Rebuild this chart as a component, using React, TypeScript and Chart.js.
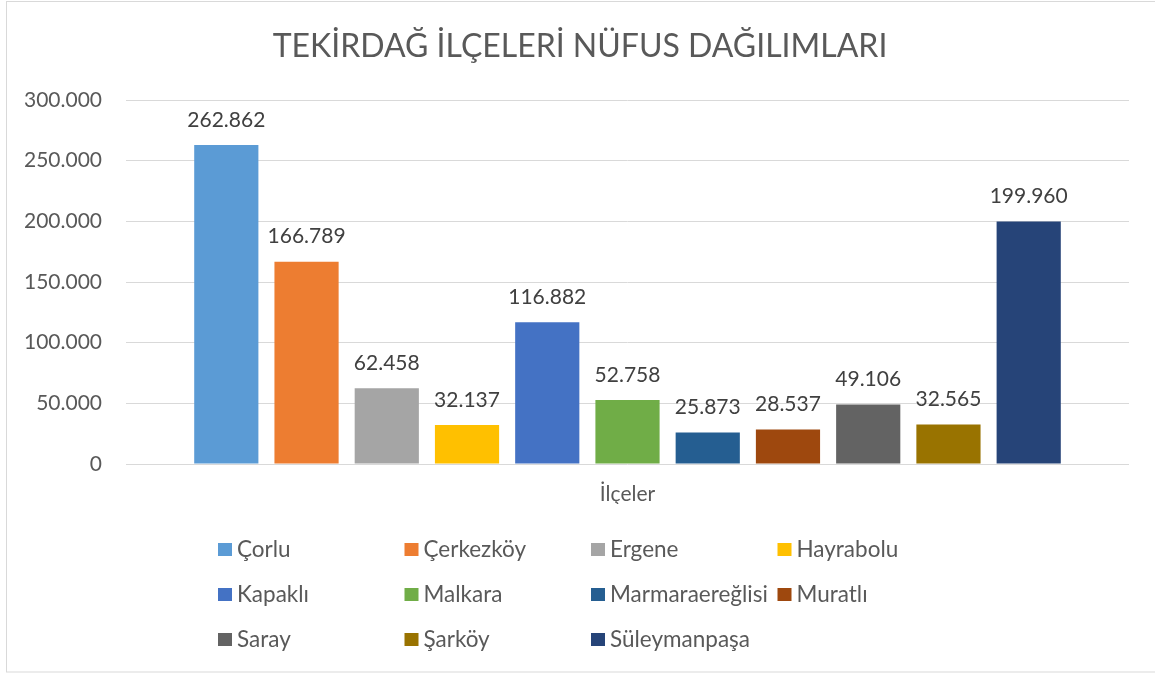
import React, { useEffect, useRef } from "react";
import { Chart, registerables } from "chart.js";

Chart.register(...registerables);

const TITLE = "TEKİRDAĞ İLÇELERİ NÜFUS DAĞILIMLARI";
const CATEGORIES = ["İlçeler"];
const DISTRICTS = [
  "Çorlu",
  "Çerkezköy",
  "Ergene",
  "Hayrabolu",
  "Kapaklı",
  "Malkara",
  "Marmaraereğlisi",
  "Muratlı",
  "Saray",
  "Şarköy",
  "Süleymanpaşa",
];
const POPULATION = [262862, 166789, 62458, 32137, 116882, 52758, 25873, 28537, 49106, 32565, 199960];
const COLORS = [
  "#5B9BD5",
  "#ED7D31",
  "#A5A5A5",
  "#FFC000",
  "#4472C4",
  "#70AD47",
  "#255E91",
  "#9E480E",
  "#636363",
  "#997300",
  "#264478",
];
const Y_MAX = 300000;
const Y_STEP = 50000;

const FONT = "Lato, 'Open Sans', sans-serif";

function fmt(v: number): string {
  return String(Math.round(v)).replace(/\B(?=(\d{3})+(?!\d))/g, ".");
}

const frameAndLabels = {
  id: "frameAndLabels",
  afterDatasetsDraw(chart: any) {
    const ctx = chart.ctx;
    ctx.save();
    ctx.font = `21px ${FONT}`;
    ctx.fillStyle = "#404040";
    ctx.textAlign = "center";
    ctx.textBaseline = "middle";
    chart.data.datasets.forEach((ds: any, i: number) => {
      const meta = chart.getDatasetMeta(i);
      meta.data.forEach((bar: any, j: number) => {
        ctx.fillText(fmt(ds.data[j]), bar.x, bar.y - 25);
      });
    });
    ctx.restore();
  },
  afterDraw(chart: any) {
    const ctx = chart.ctx;
    ctx.save();
    // title
    ctx.font = `32px ${FONT}`;
    ctx.fillStyle = "#595959";
    ctx.textAlign = "center";
    ctx.textBaseline = "middle";
    ctx.fillText(TITLE, 580, 47);
    // legend grid
    const colX = [218, 404.5, 591, 777.5];
    const rowY = [549.5, 594.5, 639.5];
    ctx.font = `22.5px ${FONT}`;
    ctx.textBaseline = "middle";
    ctx.textAlign = "left";
    chart.data.datasets.forEach((ds: any, i: number) => {
      const c = i % 4;
      const r = Math.floor(i / 4);
      const x = colX[c];
      const y = rowY[r];
      ctx.fillStyle = ds.backgroundColor;
      ctx.fillRect(x, y - 6.5, 14, 13);
      ctx.fillStyle = "#595959";
      ctx.fillText(ds.label, x + 19, y);
    });
    // frame
    ctx.strokeStyle = "#D9D9D9";
    ctx.lineWidth = 1;
    ctx.strokeRect(6.5, 1.5, 1160, 670.5);
    ctx.restore();
  },
};

export default function App() {
  const ref = useRef<HTMLCanvasElement | null>(null);
  useEffect(() => {
    if (!ref.current) return;
    const chart = new Chart(ref.current, {
      type: "bar",
      data: {
        labels: CATEGORIES,
        datasets: DISTRICTS.map((name, i) => ({
          label: name,
          data: [POPULATION[i]],
          backgroundColor: COLORS[i],
          borderWidth: 0,
          categoryPercentage: 0.88,
          barPercentage: 0.8,
        })),
      },
      options: {
        responsive: false,
        animation: false,
        layout: { padding: { left: 0, right: 26, top: 100, bottom: 169 } },
        plugins: {
          legend: { display: false },
          tooltip: { enabled: false },
          title: { display: false },
        },
        scales: {
          x: {
            grid: { display: false, drawTicks: false },
            border: { display: false },
            ticks: { color: "#595959", font: { family: FONT, size: 21 }, padding: 18 },
            afterFit: (s: any) => {
              s.height = 40;
            },
          },
          y: {
            min: 0,
            max: Y_MAX,
            grid: { color: "#D9D9D9", lineWidth: 1, drawTicks: false },
            border: { display: false },
            ticks: {
              stepSize: Y_STEP,
              color: "#595959",
              font: { family: FONT, size: 21 },
              padding: 24,
              callback: (v: any) => fmt(Number(v)),
            },
            afterFit: (s: any) => {
              s.width = 126;
            },
          },
        },
      },
      plugins: [frameAndLabels],
    });
    return () => chart.destroy();
  }, []);
  return (
    <div style={{ position: "absolute", left: 0, top: 0, width: 1155, height: 673, background: "#fff" }}>
      <canvas ref={ref} width={1155} height={673} style={{ display: "block" }} />
    </div>
  );
}
